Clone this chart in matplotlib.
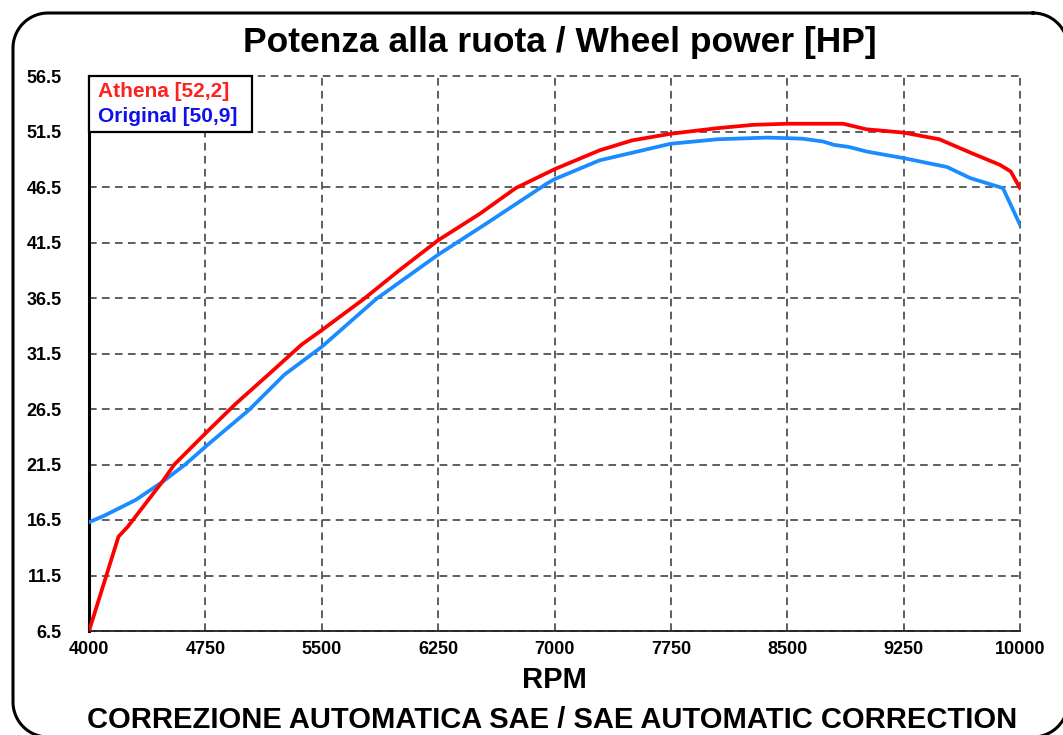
import numpy as np
import matplotlib
matplotlib.use("Agg")
import matplotlib.pyplot as plt
from matplotlib.patches import Rectangle

# Athena curve (rpm, HP)
rpm_athena = [4000, 4190, 4250, 4470, 4550, 4750, 4940, 5180, 5370, 5500,
              5770, 6000, 6250, 6520, 6750, 7000, 7290, 7500, 7750, 8050,
              8280, 8500, 8860, 9010, 9250, 9480, 9680, 9870, 9940, 10000]
hp_athena = [6.5, 15.0, 15.9, 19.9, 21.5, 24.3, 26.9, 29.9, 32.3, 33.6,
             36.4, 39.0, 41.7, 44.1, 46.4, 48.1, 49.8, 50.7, 51.3, 51.8,
             52.1, 52.2, 52.2, 51.7, 51.4, 50.8, 49.6, 48.5, 47.9, 46.4]

# Original curve
rpm_original = [4000, 4100, 4300, 4470, 4620, 4750, 5030, 5260, 5500, 5850,
                6250, 6560, 6950, 7000, 7290, 7750, 8050, 8370, 8500, 8600,
                8730, 8800, 8900, 9010, 9250, 9530, 9680, 9890, 10000]
hp_original = [16.3, 16.9, 18.3, 19.9, 21.5, 23.1, 26.4, 29.6, 32.1, 36.4,
               40.4, 43.2, 46.8, 47.2, 48.9, 50.4, 50.8, 50.95, 50.9, 50.85,
               50.6, 50.3, 50.1, 49.7, 49.1, 48.3, 47.3, 46.4, 43.1]

x_ticks = [4000, 4750, 5500, 6250, 7000, 7750, 8500, 9250, 10000]
y_ticks = [6.5, 11.5, 16.5, 21.5, 26.5, 31.5, 36.5, 41.5, 46.5, 51.5, 56.5]
series_labels = ["Athena [52,2]", "Original [50,9]"]
label_colors = ["#ff2020", "#1010ee"]

plt.rcParams["font.family"] = ["Liberation Sans", "DejaVu Sans"]
plt.rcParams["font.weight"] = "bold"

W, H = 1063, 735
fig = plt.figure(figsize=(W / 100, H / 100), dpi=100)


def rounded_outline(x0, y0, x1, y1, r, n=24):
    # closed outline of a rectangle with round corners (pixel units, y down)
    corners = [(x1 - r, y0 + r, -90, 0), (x1 - r, y1 - r, 0, 90),
               (x0 + r, y1 - r, 90, 180), (x0 + r, y0 + r, 180, 270)]
    xs, ys = [], []
    for cx, cy, a0, a1 in corners:
        t = np.radians(np.linspace(a0, a1, n))
        xs.extend(cx + r * np.cos(t))
        ys.extend(cy + r * np.sin(t))
    return xs + xs[:1], ys + ys[:1]


# rounded outer frame
bg = fig.add_axes([0, 0, 1, 1], zorder=0)
bg.set_xlim(0, W)
bg.set_ylim(H, 0)
bg.axis("off")
fx, fy = rounded_outline(13, 13, 1068, 737, 35)
bg.plot(fx, fy, color="black", lw=2.2, clip_on=False)

ax = fig.add_axes([89 / W, 1 - 631 / H, 931 / W, 555 / H], zorder=1)

ax.plot(rpm_athena, hp_athena, color="#ff0000", lw=2.7, zorder=3)
ax.plot(rpm_original, hp_original, color="#1a8cff", lw=2.7, zorder=2.8)

ax.set_xlim(4000, 10000)
ax.set_ylim(6.5, 56.5)
ax.set_xticks(x_ticks)
ax.set_xticklabels([str(v) for v in x_ticks])
ax.set_yticks(y_ticks)
ax.set_yticklabels([f"{v:.1f}" for v in y_ticks])
ax.tick_params(length=0, labelsize=13)
ax.tick_params(axis="y", pad=19.5)
ax.tick_params(axis="x", pad=7)

ax.grid(True, color="#333333", lw=1.1, ls=(0, (5, 3.5)))
for gl in ax.get_xgridlines() + ax.get_ygridlines():
    gl.set_clip_on(False)

ax.spines["top"].set_visible(False)
ax.spines["right"].set_visible(False)
ax.spines["left"].set_linewidth(2.2)
ax.spines["left"].set_color("black")
ax.spines["bottom"].set_linewidth(1.3)
ax.spines["bottom"].set_color("#222222")

# text-only legend box in the top left corner
ax.add_patch(Rectangle((0, 0.9), 0.175, 0.1, transform=ax.transAxes,
                       fc="white", ec="black", lw=1.6, zorder=4, clip_on=False))
for i, (lab, col) in enumerate(zip(series_labels, label_colors)):
    ax.text(0.0097, 0.962 - i * 0.045, lab, color=col, fontsize=15,
            fontweight="bold", va="baseline", ha="left",
            transform=ax.transAxes, zorder=5)

ax.set_xlabel("RPM", fontsize=21, fontweight="bold", labelpad=6)

fig.text(560 / W, 1 - 52 / H, "Potenza alla ruota / Wheel power [HP]",
         ha="center", va="baseline", fontsize=25.5, fontweight="bold")
fig.text(552 / W, 1 - 728 / H,
         "CORREZIONE AUTOMATICA SAE / SAE AUTOMATIC CORRECTION",
         ha="center", va="baseline", fontsize=21, fontweight="bold")

fig.savefig("out.png", dpi=100)
